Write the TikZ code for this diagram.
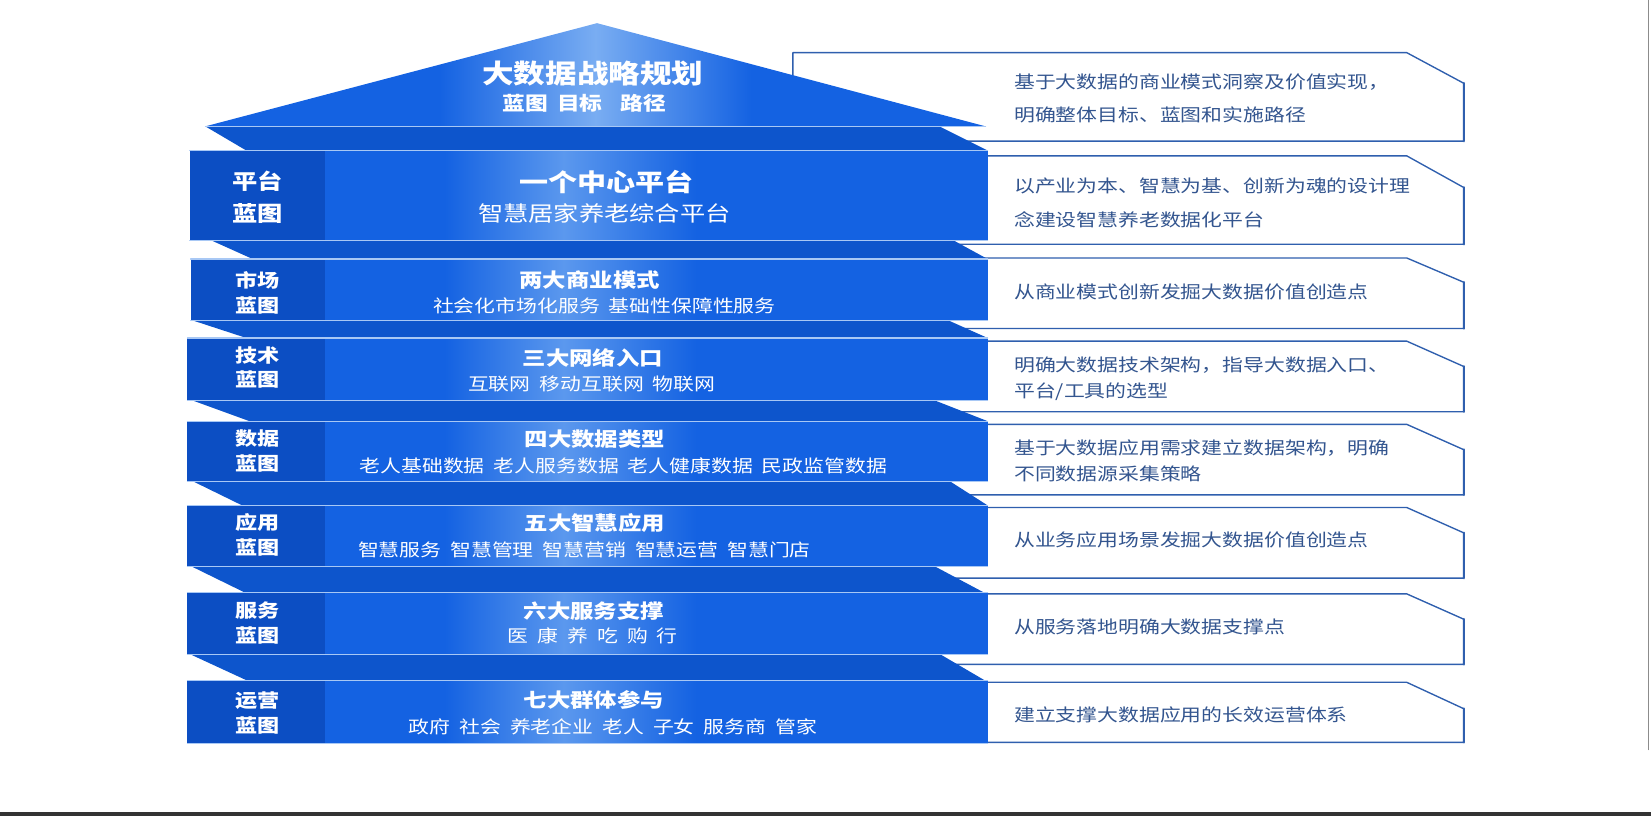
\documentclass[tikz,border=0pt]{standalone}
\usepackage{fontspec}
\setmainfont{Noto Sans CJK SC}[FakeStretch=1.2]
\usepackage{xcolor}
\newcommand\widesp{\spaceskip 8.5pt\relax}
\definecolor{ruwses}{rgb}{0.0784,0.3843,0.8863}
\definecolor{qcvscy}{rgb}{0.0471,0.3059,0.7647}
\definecolor{qdvvcc}{rgb}{0.051,0.3333,0.8}
\definecolor{vbzyee}{rgb}{0.3569,0.5961,0.9333}
\definecolor{xzadfs}{rgb}{0.4745,0.6784,0.949}
\definecolor{aycyfv}{rgb}{0.6588,0.7843,0.9608}
\definecolor{sfvfae}{rgb}{0.1843,0.3725,0.6824}
\definecolor{ttvvyf}{rgb}{0.2,0.3333,0.5608}
\definecolor{tttttt}{rgb}{0.2,0.2,0.2}
\definecolor{ycycyc}{rgb}{0.549,0.549,0.549}
\pgfdeclarehorizontalshading{barglow}{100bp}{color(0bp)=(ruwses); color(34bp)=(ruwses); color(43bp)=(vbzyee); color(53bp)=(ruwses); color(100bp)=(ruwses)}
\pgfdeclarehorizontalshading{roofglow}{100bp}{color(0bp)=(ruwses); color(40bp)=(ruwses); color(50bp)=(xzadfs); color(60bp)=(ruwses); color(100bp)=(ruwses)}
\begin{document}
\begin{tikzpicture}[line cap=round,line join=round,x=1pt,y=-1pt,
  ttl/.style={text=white,inner sep=0pt,font=\bfseries\fontsize{18.5}{22}\selectfont},
  sub/.style={text=white,inner sep=0pt,font=\fontsize{16.5}{20}\selectfont\widesp},
  lbl/.style={text=white,inner sep=0pt,align=center,font=\bfseries\fontsize{17.5}{23.5}\selectfont},
  txt/.style={text=ttvvyf,inner sep=0pt,anchor=west,align=left,font=\fontsize{16.5}{24.5}\selectfont},
  boxline/.style={draw=sfvfae,fill=white,line width=1.3pt},
  glint/.style={draw=aycyfv,line width=1pt}]
\useasboundingbox (0,0) rectangle (1568,781);
% right boxes
\draw [boxline] (753,50) -- (1336,50) -- (1390,79) -- (1390,134) -- (753,134) -- cycle;
\draw [boxline] (880,148) -- (1336,148) -- (1390,178) -- (1390,232) -- (880,232) -- cycle;
\draw [boxline] (880,245) -- (1336,245) -- (1390,268) -- (1390,312) -- (880,312) -- cycle;
\draw [boxline] (880,324) -- (1336,324) -- (1390,348) -- (1390,391) -- (880,391) -- cycle;
\draw [boxline] (880,403) -- (1336,403) -- (1390,427) -- (1390,470) -- (880,470) -- cycle;
\draw [boxline] (880,482) -- (1336,482) -- (1390,506) -- (1390,549) -- (880,549) -- cycle;
\draw [boxline] (880,564) -- (1336,564) -- (1390,588) -- (1390,631) -- (880,631) -- cycle;
\draw [boxline] (880,648) -- (1336,648) -- (1390,673) -- (1390,705) -- (880,705) -- cycle;
\draw [sfvfae,line width=2.4pt] (1390.5,79) -- (1390.5,134) (1390.5,178) -- (1390.5,232) (1390.5,268) -- (1390.5,312) (1390.5,348) -- (1390.5,391) (1390.5,427) -- (1390.5,470) (1390.5,506) -- (1390.5,549) (1390.5,588) -- (1390.5,631) (1390.5,673) -- (1390.5,705);
% bands between the bars
\fill [qdvvcc] (195,120) -- (892,120) -- (938,143) -- (234,143) -- cycle;
\fill [qdvvcc] (200,228) -- (905,228) -- (938,246) -- (240,246) -- cycle;
\fill [qdvvcc] (182,304) -- (900,304) -- (938,321) -- (234,321) -- cycle;
\fill [qdvvcc] (182,380) -- (887,380) -- (938,400) -- (237,400) -- cycle;
\fill [qdvvcc] (183,457) -- (902,457) -- (938,480) -- (230,480) -- cycle;
\fill [qdvvcc] (182,538) -- (888,538) -- (935,563) -- (233,563) -- cycle;
\fill [qdvvcc] (182,622) -- (894,622) -- (935,646) -- (234,646) -- cycle;
% bars
\fill [qcvscy] (180,143) rectangle (309,228);
\shade [shading=barglow] (309,143) rectangle (938,228);
\fill [qcvscy] (181,246) rectangle (309,304);
\shade [shading=barglow] (309,246) rectangle (938,304);
\fill [qcvscy] (178,321) rectangle (309,380);
\shade [shading=barglow] (309,321) rectangle (938,380);
\fill [qcvscy] (178,400) rectangle (309,457);
\shade [shading=barglow] (309,400) rectangle (938,457);
\fill [qcvscy] (178,480) rectangle (309,538);
\shade [shading=barglow] (309,480) rectangle (938,538);
\fill [qcvscy] (178,563) rectangle (309,622);
\shade [shading=barglow] (309,563) rectangle (938,622);
\fill [qcvscy] (178,646) rectangle (309,706);
\shade [shading=barglow] (309,646) rectangle (938,706);
% roof
\shade [shading=roofglow] (195,120) -- (567,22) -- (936,120) -- cycle;
\draw [glint] (195,120) -- (936,120);
\draw [glint] (180,143) -- (938,143) (180,228) -- (938,228);
\draw [glint] (181,246) -- (938,246) (181,304) -- (938,304);
\draw [glint] (178,321) -- (938,321) (178,380) -- (938,380);
\draw [glint] (178,400) -- (938,400) (178,457) -- (938,457);
\draw [glint] (178,480) -- (938,480) (178,538) -- (938,538);
\draw [glint] (178,563) -- (938,563) (178,622) -- (938,622);
\draw [glint] (178,646) -- (938,646) (178,706) -- (938,706);
% frame lines
\draw [ycycyc,line width=1pt] (1565.5,0) -- (1565.5,712);
\draw [tttttt,line width=3pt,line cap=butt] (0,773) -- (1568,773);
% texts
\node [ttl,font=\bfseries\fontsize{25}{28}\selectfont] (R1) at (563,70) {大数据战略规划};
\node [ttl,font=\bfseries\fontsize{18}{22}\selectfont\widesp] (R2) at (555,98) {蓝图 目标\ \ 路径};
\node [lbl,font=\bfseries\fontsize{20}{31}\selectfont] (L1) at (245,187.5) {平台\\蓝图};
\node [ttl,font=\bfseries\fontsize{23}{26}\selectfont] (T1) at (576,173) {一个中心平台};
\node [sub,font=\fontsize{20}{24}\selectfont] (S1) at (574,203) {智慧居家养老综合平台};
\node [lbl] (L2) at (245,278) {市场\\蓝图};
\node [ttl] (T2) at (560,266) {两大商业模式};
\node [sub] (S2) at (574,290) {社会化市场化服务 基础性保障性服务};
\node [lbl] (L3) at (245,349) {技术\\蓝图};
\node [ttl] (T3) at (563,340) {三大网络入口};
\node [sub] (S3) at (562,365) {互联网 移动互联网 物联网};
\node [lbl] (L4) at (245,428) {数据\\蓝图};
\node [ttl] (T4) at (565,417) {四大数据类型};
\node [sub] (S4) at (592,442) {老人基础数据 老人服务数据 老人健康数据 民政监管数据};
\node [lbl] (L5) at (245,508) {应用\\蓝图};
\node [ttl] (T5) at (565,497) {五大智慧应用};
\node [sub] (S5) at (555,522) {智慧服务 智慧管理 智慧营销 智慧运营 智慧门店};
\node [lbl] (L6) at (245,592) {服务\\蓝图};
\node [ttl] (T6) at (564,580) {六大服务支撑};
\node [sub] (S6) at (563,604) {医 康 养 吃 购 行};
\node [lbl] (L7) at (245,677) {运营\\蓝图};
\node [ttl] (T7) at (564,665) {七大群体参与};
\node [sub] (S7) at (582,690) {政府 社会 养老企业 老人 子女 服务商 管家};
\node [txt,font=\fontsize{16.5}{32}\selectfont] (B1) at (963,93.5) {基于大数据的商业模式洞察及价值实现，\\明确整体目标、蓝图和实施路径};
\node [txt,font=\fontsize{16.5}{32}\selectfont] (B2) at (963,192.5) {以产业为本、智慧为基、创新为魂的设计理\\念建设智慧养老数据化平台};
\node [txt] (B3) at (963,277) {从商业模式创新发掘大数据价值创造点};
\node [txt] (B4) at (963,360) {明确大数据技术架构，指导大数据入口、\\平台/工具的选型};
\node [txt] (B5) at (963,437.5) {基于大数据应用需求建立数据架构，明确\\不同数据源采集策略};
\node [txt] (B6) at (963,513) {从业务应用场景发掘大数据价值创造点};
\node [txt] (B7) at (963,595) {从服务落地明确大数据支撑点};
\node [txt] (B8) at (963,679) {建立支撑大数据应用的长效运营体系};
\end{tikzpicture}
\end{document}
